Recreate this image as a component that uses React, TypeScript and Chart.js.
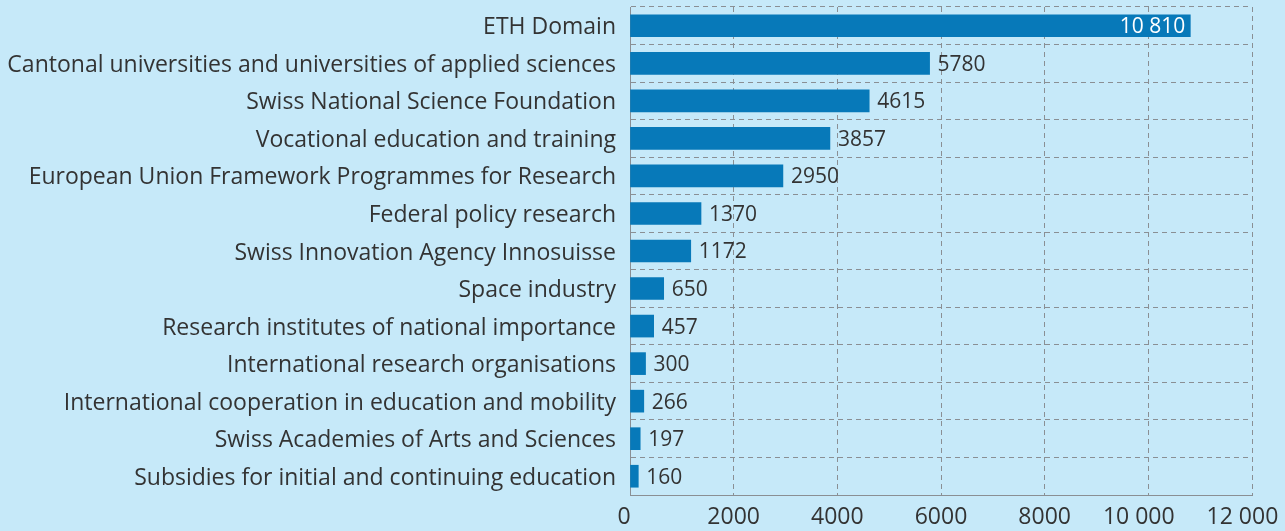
import React, { useEffect, useRef } from "react";
import { Chart, registerables } from "chart.js";

Chart.register(...registerables);

const categories = [
  "ETH Domain",
  "Cantonal universities and universities of applied sciences",
  "Swiss National Science Foundation",
  "Vocational education and training",
  "European Union Framework Programmes for Research",
  "Federal policy research",
  "Swiss Innovation Agency Innosuisse",
  "Space industry",
  "Research institutes of national importance",
  "International research organisations",
  "International cooperation in education and mobility",
  "Swiss Academies of Arts and Sciences",
  "Subsidies for initial and continuing education",
];

const values = [10810, 5780, 4615, 3857, 2950, 1370, 1172, 650, 457, 300, 266, 197, 160];

const xTicks = [0, 2000, 4000, 6000, 8000, 10000, 12000];

const BG = "#c6e9f9";
const BAR = "#0779b9";
const TEXT = "#333333";
const GRID = "#8a8f94";
const FONT = "'Open Sans', 'Noto Sans', sans-serif";

function fmt(v: number): string {
  if (Math.abs(v) >= 10000) {
    const s = String(Math.round(v));
    return s.replace(/\B(?=(\d{3})+(?!\d))/g, " ");
  }
  return String(v);
}

const valueLabels = {
  id: "valueLabels",
  afterDatasetsDraw(chart: any) {
    const ctx = chart.ctx;
    const meta = chart.getDatasetMeta(0);
    ctx.save();
    ctx.font = `21px ${FONT}`;
    ctx.textBaseline = "middle";
    meta.data.forEach((bar: any, i: number) => {
      const v = values[i];
      const text = fmt(v);
      if (v > 10000) {
        ctx.fillStyle = "#ffffff";
        ctx.textAlign = "right";
        ctx.fillText(text, bar.x - 5, bar.y + 1.5);
      } else {
        ctx.fillStyle = TEXT;
        ctx.textAlign = "left";
        ctx.fillText(text, bar.x + 8, bar.y + 1.5);
      }
    });
    ctx.restore();
  },
};

const xLabels = {
  id: "xLabels",
  afterDraw(chart: any) {
    const ctx = chart.ctx;
    const scale = chart.scales.x;
    ctx.save();
    ctx.font = `23px ${FONT}`;
    ctx.fillStyle = TEXT;
    ctx.textBaseline = "middle";
    const half4 = ctx.measureText("0000").width / 2;
    const y = chart.chartArea.bottom + 22;
    xTicks.forEach((v) => {
      const px = scale.getPixelForValue(v);
      const text = fmt(v);
      if (v >= 1000) {
        ctx.textAlign = "right";
        ctx.fillText(text, px + half4, y);
      } else {
        ctx.textAlign = "center";
        ctx.fillText(text, px - 6, y);
      }
    });
    ctx.restore();
  },
};

export default function App() {
  const ref = useRef<HTMLCanvasElement | null>(null);

  useEffect(() => {
    if (!ref.current) return;
    const chart = new Chart(ref.current, {
      type: "bar",
      data: {
        labels: categories,
        datasets: [
          {
            data: values,
            backgroundColor: BAR,
            borderWidth: 0,
            barThickness: 22,
          },
        ],
      },
      options: {
        indexAxis: "y",
        animation: false,
        responsive: false,
        maintainAspectRatio: false,
        layout: { padding: { top: 7, right: 33, left: 0, bottom: 0 } },
        plugins: {
          legend: { display: false },
          tooltip: { enabled: false },
        },
        scales: {
          x: {
            min: 0,
            max: 12000,
            afterBuildTicks(scale: any) {
              scale.ticks = xTicks.map((v) => ({ value: v }));
            },
            afterFit(scale: any) {
              scale.height = 36;
              scale.paddingLeft = 0;
              scale.paddingRight = 0;
            },
            ticks: {
              display: false,
            },
            grid: {
              color: GRID,
              lineWidth: 1,
              drawTicks: false,
            },
            border: { display: true, color: GRID, dash: [5, 4] },
          },
          y: {
            afterFit(scale: any) {
              scale.width = 630;
              scale.paddingTop = 0;
              scale.paddingBottom = 0;
            },
            ticks: {
              color: TEXT,
              font: { family: FONT, size: 23 },
              padding: 14,
              labelOffset: 2,
            },
            grid: {
              color: GRID,
              lineWidth: 1,
              drawTicks: false,
              offset: true,
            },
            border: { display: true, color: GRID, dash: [5, 4] },
          },
        },
      },
      plugins: [valueLabels, xLabels],
    });
    return () => chart.destroy();
  }, []);

  return (
    <div style={{ position: "fixed", left: 0, top: 0, width: 1285, height: 531, background: BG }}>
      <canvas ref={ref} width={1285} height={531} style={{ display: "block" }} />
    </div>
  );
}
